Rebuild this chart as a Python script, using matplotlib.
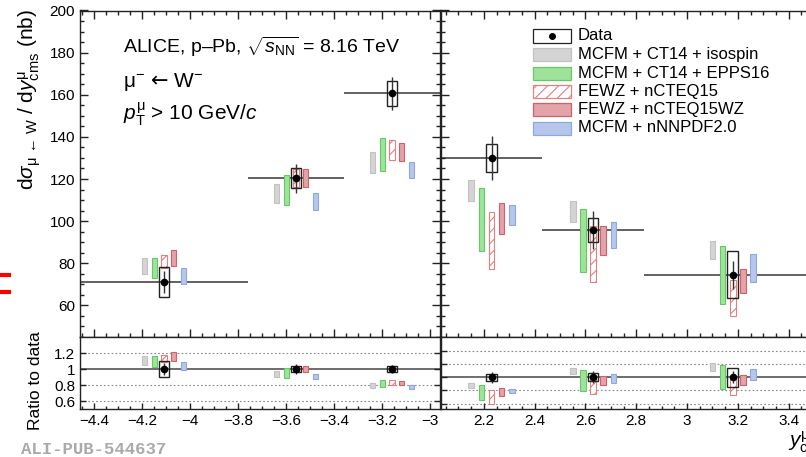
import matplotlib.pyplot as plt
import matplotlib.ticker as ticker
from matplotlib.patches import Rectangle
from matplotlib.lines import Line2D

plt.rcParams['font.family'] = ['Liberation Sans', 'DejaVu Sans']
plt.rcParams['mathtext.fontset'] = 'custom'
plt.rcParams['mathtext.rm'] = 'Liberation Sans'
plt.rcParams['mathtext.it'] = 'Liberation Sans:italic'
plt.rcParams['mathtext.bf'] = 'Liberation Sans:bold'
plt.rcParams['mathtext.sf'] = 'DejaVu Sans'
plt.rcParams['hatch.linewidth'] = 0.8

# rapidity bins: 3 backward (left panel) + 3 forward (right panel)
y_centers = [-4.11, -3.56, -3.16, 2.23, 2.63, 3.18]
bin_lo = [-4.46, -3.76, -3.36, 2.03, 2.43, 2.83]
bin_hi = [-3.76, -3.36, -2.96, 2.43, 2.83, 3.53]

# measured cross section (nb)
data = [71.1, 120.3, 160.6, 130.0, 95.6, 74.6]
stat = [5.0, 7.0, 7.8, 10.4, 9.0, 6.7]
syst = [7.0, 4.7, 6.0, 6.7, 5.7, 11.0]

# model bands (low, high)
isospin_lo = [75.1, 108.4, 122.7, 109.4, 99.7, 82.2]
isospin_hi = [82.4, 117.8, 133.0, 119.7, 109.5, 90.6]
epps16_lo = [72.9, 107.6, 124.0, 85.9, 75.9, 60.8]
epps16_hi = [82.5, 121.7, 139.7, 115.6, 106.0, 88.1]
ncteq15_lo = [77.8, 116.3, 129.0, 77.3, 71.0, 54.8]
ncteq15_hi = [84.0, 124.6, 138.3, 104.4, 97.6, 72.2]
ncteq15wz_lo = [78.6, 116.3, 128.6, 93.7, 83.7, 65.9]
ncteq15wz_hi = [86.5, 124.9, 137.0, 108.7, 97.6, 77.3]
nnnpdf_lo = [70.3, 105.2, 120.3, 98.4, 87.3, 71.0]
nnnpdf_hi = [77.6, 113.2, 128.1, 107.6, 99.8, 84.3]

labels = ['Data', 'MCFM + CT14 + isospin', 'MCFM + CT14 + EPPS16',
          'FEWZ + nCTEQ15', 'FEWZ + nCTEQ15WZ', 'MCFM + nNNPDF2.0']

# style: (lo, hi, x offset, face, edge, hatch)
models = [
    (isospin_lo, isospin_hi, -0.08, '#d4d4d4', '#c2c2c2', None),
    (epps16_lo, epps16_hi, -0.04, '#9fe39b', '#62cc62', None),
    (ncteq15_lo, ncteq15_hi, 0.0, 'white', '#e48080', '///'),
    (ncteq15wz_lo, ncteq15wz_hi, 0.04, '#e2a3a9', '#d2606b', None),
    (nnnpdf_lo, nnnpdf_hi, 0.08, '#b7c7ec', '#8ea8e2', None),
]

W, H = 806, 457
fig = plt.figure(figsize=(W / 100, H / 100), dpi=100)


def px(x0, y0, x1, y1):
    return [x0 / W, 1 - y1 / H, (x1 - x0) / W, (y1 - y0) / H]


axL = fig.add_axes(px(80, 10.5, 440, 337))
axLr = fig.add_axes(px(80, 337, 440, 409.3))
axR = fig.add_axes(px(440.7, 10.5, 821.7, 337))
axRr = fig.add_axes(px(440.7, 337, 821.7, 409.3))

bw = 0.022   # model box width
dw = 0.042   # data box width


def draw(ax, axr, idx):
    for i in idx:
        yc, d = y_centers[i], data[i]
        for lo, hi, dx, fc, ec, hatch in models:
            for a, l, h in ((ax, lo[i], hi[i]), (axr, lo[i] / d, hi[i] / d)):
                a.add_patch(Rectangle((yc + dx - bw / 2, l), bw, h - l,
                                      facecolor=fc, edgecolor=ec, hatch=hatch,
                                      lw=0.8, zorder=2))
        ax.hlines(d, bin_lo[i], bin_hi[i], color='#555555', lw=1.3, zorder=1.5)
        for a, v, s, st in ((ax, d, syst[i], stat[i]), (axr, 1.0, syst[i] / d, stat[i] / d)):
            a.add_patch(Rectangle((yc - dw / 2, v - s), dw, 2 * s, fill=False,
                                  edgecolor='#222222', lw=1.0, zorder=3))
            a.vlines(yc, v - st, v + st, color='#333333', lw=1.0, zorder=3)
            a.plot(yc, v, 'o', color='black', ms=4.5, zorder=4)


draw(axL, axLr, [0, 1, 2])
draw(axR, axRr, [3, 4, 5])

fmt = ticker.FuncFormatter(lambda v, p: f'{v:g}'.replace('-', '\u2212'))

for ax, xl in ((axL, (-4.46, -2.96)), (axR, (2.03, 3.53))):
    ax.set_xlim(*xl)
    ax.set_ylim(45, 200)
    ax.xaxis.set_major_locator(ticker.MultipleLocator(0.2))
    ax.xaxis.set_minor_locator(ticker.MultipleLocator(0.05))
    ax.yaxis.set_major_locator(ticker.MultipleLocator(20))
    ax.yaxis.set_minor_locator(ticker.MultipleLocator(5))
    ax.tick_params(which='both', direction='in', top=True, bottom=True,
                   left=True, right=True, labelbottom=False, labelsize=11,
                   color='#222222', width=1.0)
    ax.tick_params(which='major', length=6)
    ax.tick_params(which='minor', length=3)

for axr, xl, yl, grid in ((axLr, (-4.46, -2.96), (0.5, 1.4), [0.6, 0.8, 1.2]),
                          (axRr, (2.03, 3.53), (0.515, 1.61), [0.6, 0.8, 1.2, 1.4])):
    axr.set_xlim(*xl)
    axr.set_ylim(*yl)
    axr.xaxis.set_major_locator(ticker.MultipleLocator(0.2))
    axr.xaxis.set_minor_locator(ticker.MultipleLocator(0.05))
    axr.xaxis.set_major_formatter(fmt)
    axr.yaxis.set_major_locator(ticker.FixedLocator([0.6, 0.8, 1.0, 1.2, 1.4]))
    axr.yaxis.set_major_formatter(fmt)
    axr.tick_params(which='both', direction='in', top=False, bottom=True,
                    left=True, right=True, labelsize=11, color='#222222', width=1.0)
    axr.tick_params(which='major', length=4)
    axr.tick_params(which='minor', length=2)
    axr.axhline(1.0, color='#555555', lw=1.2, zorder=1)
    for g in grid:
        axr.axhline(g, color='#888888', lw=0.8, ls=(0, (1.5, 2)), zorder=1)

axLr.yaxis.set_major_locator(ticker.FixedLocator([0.6, 0.8, 1.0, 1.2]))
axR.tick_params(labelleft=False)
axRr.tick_params(labelleft=False)

for ax in (axL, axLr, axR, axRr):
    for sp in ax.spines.values():
        sp.set_linewidth(1.0)
        sp.set_color('#222222')

# text
fig.text(123 / W, 1 - 53 / H, r'ALICE, p–Pb, $\sqrt{s_{\rm NN}}$ = 8.16 TeV',
         fontsize=14, va='baseline')
fig.text(123 / W, 1 - 87 / H, r'$\mathrm{μ}^{-}\ \mathsf{←}\ \mathrm{W}^{-}$',
         fontsize=15, va='baseline')
fig.text(123 / W, 1 - 120 / H, r'$p_{\rm T}^{\rm μ}$ > 10 GeV/$c$',
         fontsize=15, va='baseline')

fig.text(30 / W, 1 - 9 / H,
         r'd$\sigma_{\rm μ\,\leftarrow\,W}$ / d$y^{\rm μ}_{\rm cms}$ (nb)',
         rotation=90, fontsize=15, ha='center', va='top')
fig.text(35 / W, 1 - 381 / H, 'Ratio to data', rotation=90, fontsize=12.5,
         ha='center', va='center')
fig.text(788 / W, 1 - 447 / H, r'$y^{\rm μ}_{\rm cms}$', fontsize=15,
         ha='left', va='baseline')

fig.text(21 / W, 1 - 449.5 / H, 'ALI-PUB-544637', family='Liberation Mono',
         weight='bold', color='#aaaaaa', fontsize=12.5, va='center')

# legend (drawn by hand, ROOT style)
rows = [36, 54.3, 73, 91.3, 109.7, 128]
styles = [('white', '#222222', None)] + [(m[3], m[4], m[5]) for m in models]
for yc, lab, (fc, ec, hatch) in zip(rows, labels, styles):
    fig.add_artist(Rectangle((533 / W, 1 - (yc + 6.5) / H), 37.5 / W, 13 / H,
                             facecolor=fc, edgecolor=ec, hatch=hatch, lw=0.9,
                             transform=fig.transFigure))
    fig.text(578 / W, 1 - yc / H, lab, fontsize=12, va='center')
fig.add_artist(Line2D([551.5 / W], [1 - rows[0] / H], marker='o', ms=4,
                      color='black', transform=fig.transFigure))

# red crop marks at the left edge
for yy in (275, 292):
    fig.add_artist(Line2D([0, 9 / W], [1 - yy / H, 1 - yy / H], color='red',
                          lw=3, transform=fig.transFigure))

fig.savefig('out.png', dpi=100)
